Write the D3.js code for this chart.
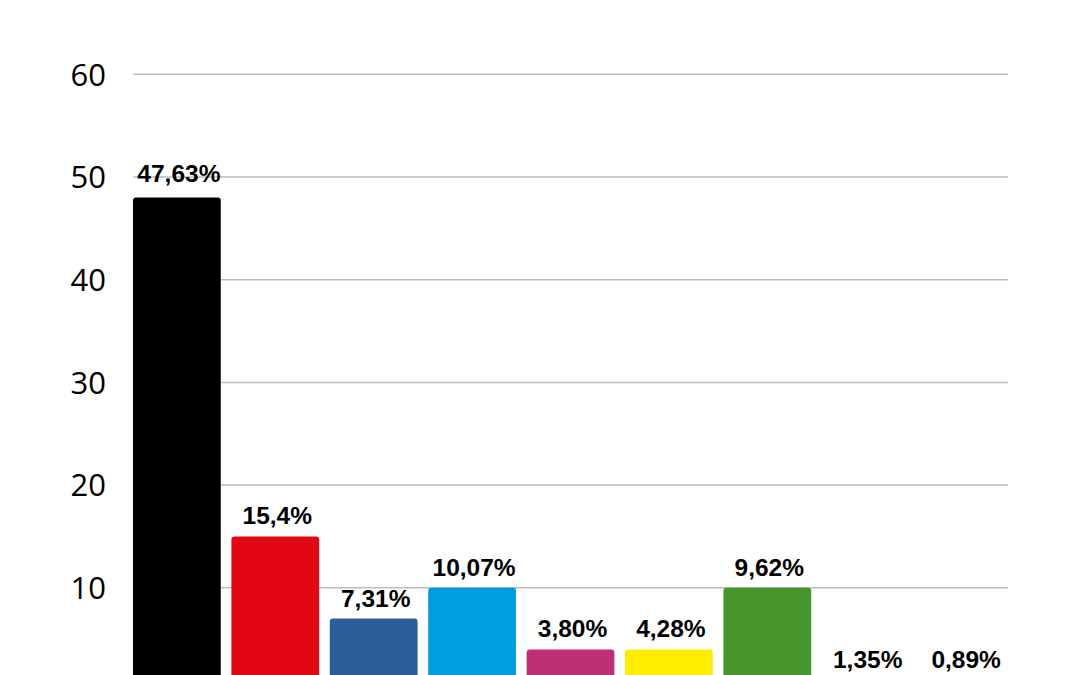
<!DOCTYPE html>
<html>
<head>
<meta charset="utf-8">
<script src="https://cdn.jsdelivr.net/npm/d3@7"></script>
<style>
  html, body { margin: 0; padding: 0; background: #fff; }
  svg { display: block; }
</style>
</head>
<body>
<svg id="chart" width="1080" height="675"></svg>
<script>
// Data (bar heights as drawn, labels as printed)
const categories = ["A", "B", "C", "D", "E", "F", "G", "H", "I"];
const values = [48, 15, 7, 10, 4, 4, 10, 1, 1];
const labels = ["47,63%", "15,4%", "7,31%", "10,07%", "3,80%", "4,28%", "9,62%", "1,35%", "0,89%"];
const colors = ["#000000", "#e30613", "#2e5e99", "#009ee0", "#be3075", "#ffed00", "#46962b", "#000000", "#000000"];
const yTicks = [0, 10, 20, 30, 40, 50, 60];

const svg = d3.select("#chart");

const x = d3.scaleBand()
  .domain(categories)
  .range([133, 1008])
  .paddingInner(0.108)
  .paddingOuter(0);

const y = d3.scaleLinear()
  .domain([0, 60])
  .range([690.5, 74.3]);

// gridlines
svg.append("g")
  .selectAll("line")
  .data(yTicks)
  .join("line")
  .attr("x1", 133)
  .attr("x2", 1008)
  .attr("y1", d => y(d))
  .attr("y2", d => y(d))
  .attr("stroke", "#bdbdbd")
  .attr("stroke-width", 1.5);

// y axis labels
const yAxis = d3.axisLeft(y).tickValues(yTicks).tickSize(0).tickPadding(0);
const gy = svg.append("g")
  .attr("transform", "translate(106,0)")
  .call(yAxis);
gy.select(".domain").remove();
gy.selectAll("text")
  .attr("font-family", "'Open Sans', sans-serif")
  .attr("font-size", 31)
  .attr("fill", "#000")
  .attr("dy", "0.35em");

// bars
svg.append("g")
  .selectAll("rect")
  .data(values)
  .join("rect")
  .attr("x", (d, i) => x(categories[i]))
  .attr("y", d => y(d))
  .attr("width", x.bandwidth())
  .attr("height", d => y(0) - y(d) + 10)
  .attr("rx", 3)
  .attr("fill", (d, i) => colors[i]);

// value labels
svg.append("g")
  .selectAll("text")
  .data(values)
  .join("text")
  .attr("x", (d, i) => x(categories[i]) + x.bandwidth() / 2 + 2)
  .attr("y", (d, i) => y(d) - (i === 0 ? 16 : 12))
  .attr("text-anchor", "middle")
  .attr("font-family", "'Liberation Sans', Arial, sans-serif")
  .attr("font-weight", "bold")
  .attr("font-size", 24.5)
  .attr("fill", "#000")
  .text((d, i) => labels[i]);
</script>
</body>
</html>
